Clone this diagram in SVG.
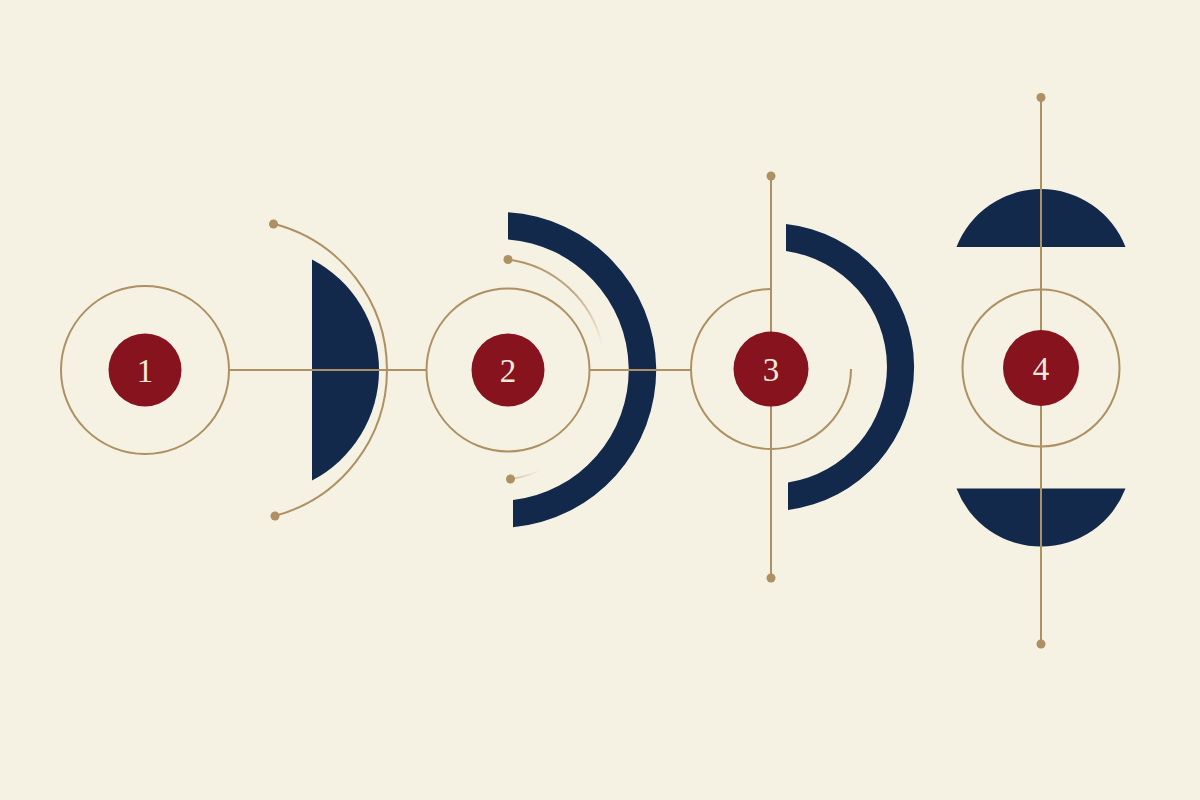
<svg xmlns="http://www.w3.org/2000/svg" width="1200" height="800" viewBox="0 0 1200 800">
  <defs>
    <style>
      .gold { fill: none; stroke: #AE9162; stroke-width: 2; }
      .dot { fill: #AE9162; }
      .navy { fill: #12294C; }
      .core { fill: #86131D; }
      .num { font-family: "Liberation Serif", "DejaVu Serif", serif; font-size: 33px; fill: #F4EADB; text-anchor: middle; }
    </style>
    <linearGradient id="fadeTop" gradientUnits="userSpaceOnUse" x1="508" y1="259" x2="602" y2="345">
      <stop offset="0" stop-color="#AE9162" stop-opacity="1"/>
      <stop offset="0.55" stop-color="#AE9162" stop-opacity="0.75"/>
      <stop offset="1" stop-color="#AE9162" stop-opacity="0"/>
    </linearGradient>
    <linearGradient id="fadeBot" gradientUnits="userSpaceOnUse" x1="511" y1="479" x2="540" y2="470">
      <stop offset="0" stop-color="#AE9162" stop-opacity="0.5"/>
      <stop offset="1" stop-color="#AE9162" stop-opacity="0"/>
    </linearGradient>
  </defs>
  <rect width="1200" height="800" fill="#F5F1E3"/>

  <g id="shapes">
    <path class="navy" d="M312,259.5 A124.6,124.6 0 0 1 312,480.5 Z"/>
    <path class="navy" d="M508,212.3 A158,158 0 0 1 513,527.3 L513,500.1 A131,131 0 0 0 508,239.4 Z"/>
    <path class="navy" d="M786,223.9 A144,144 0 0 1 788,509.9 L788,482.6 A117,117 0 0 0 786,251.1 Z"/>
    <path class="navy" d="M956.5,247 A90.6,90.6 0 0 1 1125.5,247 Z"/>
    <path class="navy" d="M956.5,488.6 A90.6,90.6 0 0 0 1125.5,488.6 Z"/>
  </g>

  <g id="connectors">
    <line class="gold" x1="229" y1="370" x2="427" y2="370"/>
    <line class="gold" x1="589" y1="370" x2="692" y2="370"/>
    <path class="gold" d="M274.5,224 A151,151 0 0 1 274.5,516"/>
    <circle class="dot" cx="273.5" cy="224" r="4.5"/>
    <circle class="dot" cx="275" cy="516" r="4.5"/>
    <path fill="none" stroke="url(#fadeTop)" stroke-width="2" d="M508,259.4 A111,111 0 0 1 602,345"/>
    <path fill="none" stroke="url(#fadeBot)" stroke-width="1.5" d="M511,479 A111,111 0 0 0 540,470.5"/>
    <circle class="dot" cx="508" cy="259.5" r="4.5"/>
    <circle class="dot" cx="510.5" cy="479" r="4.5"/>
    <line class="gold" x1="771" y1="176" x2="771" y2="578"/>
    <circle class="dot" cx="771" cy="176" r="4.5"/>
    <circle class="dot" cx="771" cy="578" r="4.5"/>
    <line class="gold" x1="1041" y1="97" x2="1041" y2="644"/>
    <circle class="dot" cx="1041" cy="97.5" r="4.5"/>
    <circle class="dot" cx="1041" cy="644" r="4.5"/>
  </g>

  <g id="node-1">
    <circle class="gold" cx="145" cy="370" r="84"/>
    <circle class="core" cx="145" cy="370" r="36.5"/>
    <text class="num" x="145" y="381.5">1</text>
  </g>
  <g id="node-2">
    <circle class="gold" cx="508" cy="370" r="81.5"/>
    <circle class="core" cx="508" cy="370" r="36.5"/>
    <text class="num" x="508" y="381.5">2</text>
  </g>
  <g id="node-3">
    <path class="gold" d="M771,289 A80,80 0 1 0 851,369"/>
    <circle class="core" cx="771" cy="369" r="37.5"/>
    <text class="num" x="771" y="380.5">3</text>
  </g>
  <g id="node-4">
    <circle class="gold" cx="1041" cy="368" r="78.5"/>
    <circle class="core" cx="1041" cy="368" r="38"/>
    <text class="num" x="1041" y="379.5">4</text>
  </g>
</svg>
